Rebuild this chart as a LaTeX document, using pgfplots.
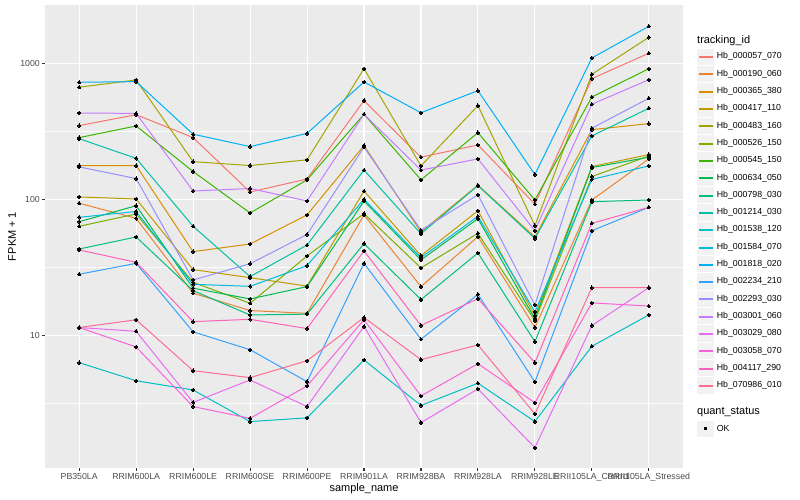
\documentclass[border=0pt]{standalone}
\usepackage{fontspec}
\setmainfont{Liberation Sans}
\usepackage{pgfplots}
\usepackage{pgfplotstable}
\pgfplotsset{compat=1.18}

\definecolor{c1}{HTML}{F8766D}
\definecolor{c2}{HTML}{EA8331}
\definecolor{c3}{HTML}{D89000}
\definecolor{c4}{HTML}{C09B00}
\definecolor{c5}{HTML}{A3A500}
\definecolor{c6}{HTML}{7CAE00}
\definecolor{c7}{HTML}{39B600}
\definecolor{c8}{HTML}{00BB4E}
\definecolor{c9}{HTML}{00BF7D}
\definecolor{c10}{HTML}{00C1A3}
\definecolor{c11}{HTML}{00BFC4}
\definecolor{c12}{HTML}{00BAE0}
\definecolor{c13}{HTML}{00B0F6}
\definecolor{c14}{HTML}{35A2FF}
\definecolor{c15}{HTML}{9590FF}
\definecolor{c16}{HTML}{C77CFF}
\definecolor{c17}{HTML}{E76BF3}
\definecolor{c18}{HTML}{FA62DB}
\definecolor{c19}{HTML}{FF62BC}
\definecolor{c20}{HTML}{FF6C91}
\definecolor{panelbg}{HTML}{EBEBEB}
\definecolor{keybg}{HTML}{F2F2F2}
\definecolor{gray20}{HTML}{333333}
\definecolor{gray30}{HTML}{4D4D4D}

% FPKM + 1, one row per sample, one column per tracking_id
\pgfplotstableread{
x  s1   s2   s3  s4    s5   s6   s7  s8   s9   s10 s11  s12  s13  s14  s15 s16  s17  s18  s19  s20
0  348  93.5 177 104   667  63.3 284 68.4 43.1 279 6.29 73.7 725  28.1 173 431  11.4 11.4 42.4 11.4
1  419  72.4 177 100.5 754  78.0 346 89.7 52.8 200 4.63 81.3 733  33.8 142 428  10.7 8.20 34.4 13.0
2  284  20.4 41.2 30.4 189  24.5 160 22.2 21.3 63.3 3.96 23.7 301 10.6 25.5 115 3.21 2.99 12.6 5.49
3  113  15.2 46.9 26.5 177  17.2 79.3 18.5 14.1 27.0 2.32 22.9 244 7.83 33.6 120 4.69 2.45 13.1 4.88
4  141  14.5 76.7 23.0 195  38.3 139 22.8 14.3 46.1 2.47 32.5 305 4.56 55.1 97.2 2.99 4.24 11.2 6.50
5  531  76.7 248 115   912  78.4 422 97.2 47.2 164 6.58 100  729  33.8 242 422  11.6 13.0 41.7 13.5
6  204  22.8 57.5 38.5 176  31.3 139 35.8 18.3 55.8 3.05 37.2 433 9.35 59.2 164 2.28 3.58 11.8 6.62
7  251  53.1 127 82.4  488  56.2 309 72.0 40.3 126 4.44 75.0 629  20.0 108 198  4.03 6.18 18.6 8.49
8  92   11.4 52.8 13.9 64.0 12.8 98.8 13.2 8.97 51.5 2.32 14.9 152 4.54 16.7 58.7 1.49 3.19 6.29 2.64
9  771  98.8 325 174   830  147  565 171  96.0 292 8.30 140  1094 58.7 333 500  11.8 17.3 66.6 22.4
10 1186 198  360 213   1552 208  912 204  98.8 467 14.1 176  1871 87.3 553 757  22.4 16.4 87.3 22.4
}\fpkm

\begin{document}
\begin{tikzpicture}[x=1bp,y=1bp]
\useasboundingbox (0,0) rectangle (800,500);
\fill[white] (0,0) rectangle (800,500);
\begin{axis}[
    at={(45bp,32bp)}, anchor=south west,
    scale only axis, width=638bp, height=463bp,
    ymode=log, ymin=1.057, ymax=2683,
    xmin=-0.6, xmax=10.6,
    xtick={0,...,10},
    xticklabels={PB350LA,RRIM600LA,RRIM600LE,RRIM600SE,RRIM600PE,RRIM901LA,RRIM928BA,RRIM928LA,RRIM928LE,RRII105LA\_Control,RRII105LA\_Stressed},
    ytick={10,100,1000}, yticklabels={10,100,1000},
    minor ytick={3.16228,31.6228,316.228},
    xmajorgrids, ymajorgrids, yminorgrids,
    major grid style={white, line width=1.07bp},
    minor grid style={white, line width=0.53bp},
    axis background/.style={fill=panelbg},
    axis line style={draw=none},
    tick pos=left, tick align=outside,
    major tick length=2.75bp, minor tick length=0pt,
    tick style={gray20, line width=1.07bp},
    ticklabel style={font=\fontsize{8.8}{10}\selectfont, text=gray30},
    xticklabel style={anchor=north, inner sep=0pt, yshift=-2.2bp},
    yticklabel style={anchor=east, inner sep=0pt, xshift=-2.2bp},
    xlabel={sample\_name}, ylabel={FPKM + 1},
    label style={font=\fontsize{11}{13}\selectfont},
    xlabel style={at={(axis description cs:0.5,-0.0454)}, anchor=center},
    ylabel style={at={(axis description cs:-0.0517,0.5)}, anchor=center},
  ]
  \pgfplotsinvokeforeach{1,...,20}{
    \addplot[c#1, line width=1bp, mark=none] table[x=x, y=s#1] {\fpkm};
  }
  \pgfplotsinvokeforeach{1,...,20}{
    \addplot[only marks, mark=*, mark size=1.7bp,
      mark options={fill=black, draw=black, line width=0pt}] table[x=x, y=s#1] {\fpkm};
  }
\end{axis}

% legends
\node[anchor=west, inner sep=0pt, font=\fontsize{11}{13}\selectfont] at (697,459.3) {tracking\_id};
\foreach \nm [count=\k from 0] in {000057\_070,000190\_060,000365\_380,000417\_110,000483\_160,000526\_150,000545\_150,000634\_050,000798\_030,001214\_030,001538\_120,001584\_070,001818\_020,002234\_210,002293\_030,003001\_060,003029\_080,003058\_070,004117\_290,070986\_010} {
  \pgfmathsetmacro\yy{443.3-17.3*\k}
  \pgfmathsetmacro\yl{floor(\yy)}
  \pgfmathtruncatemacro\ci{\k+1}
  \fill[keybg] (697,\yy-8.15) rectangle (714,\yy+8.15);
  \fill[c\ci] (698.5,\yl-1) rectangle (712.5,\yl+1);
  \node[anchor=west, inner sep=0pt, font=\fontsize{8.8}{10}\selectfont] at (716.7,\yy) {Hb\_\nm};
}
\node[anchor=west, inner sep=0pt, font=\fontsize{11}{13}\selectfont] at (697,88.3) {quant\_status};
\fill[keybg] (697,71.3-8.15) rectangle (714,71.3+8.15);
\fill[black] (704,69.8) rectangle (707,72.8);
\node[anchor=west, inner sep=0pt, font=\fontsize{8.8}{10}\selectfont] at (716.7,71.3) {OK};
\end{tikzpicture}
\end{document}
